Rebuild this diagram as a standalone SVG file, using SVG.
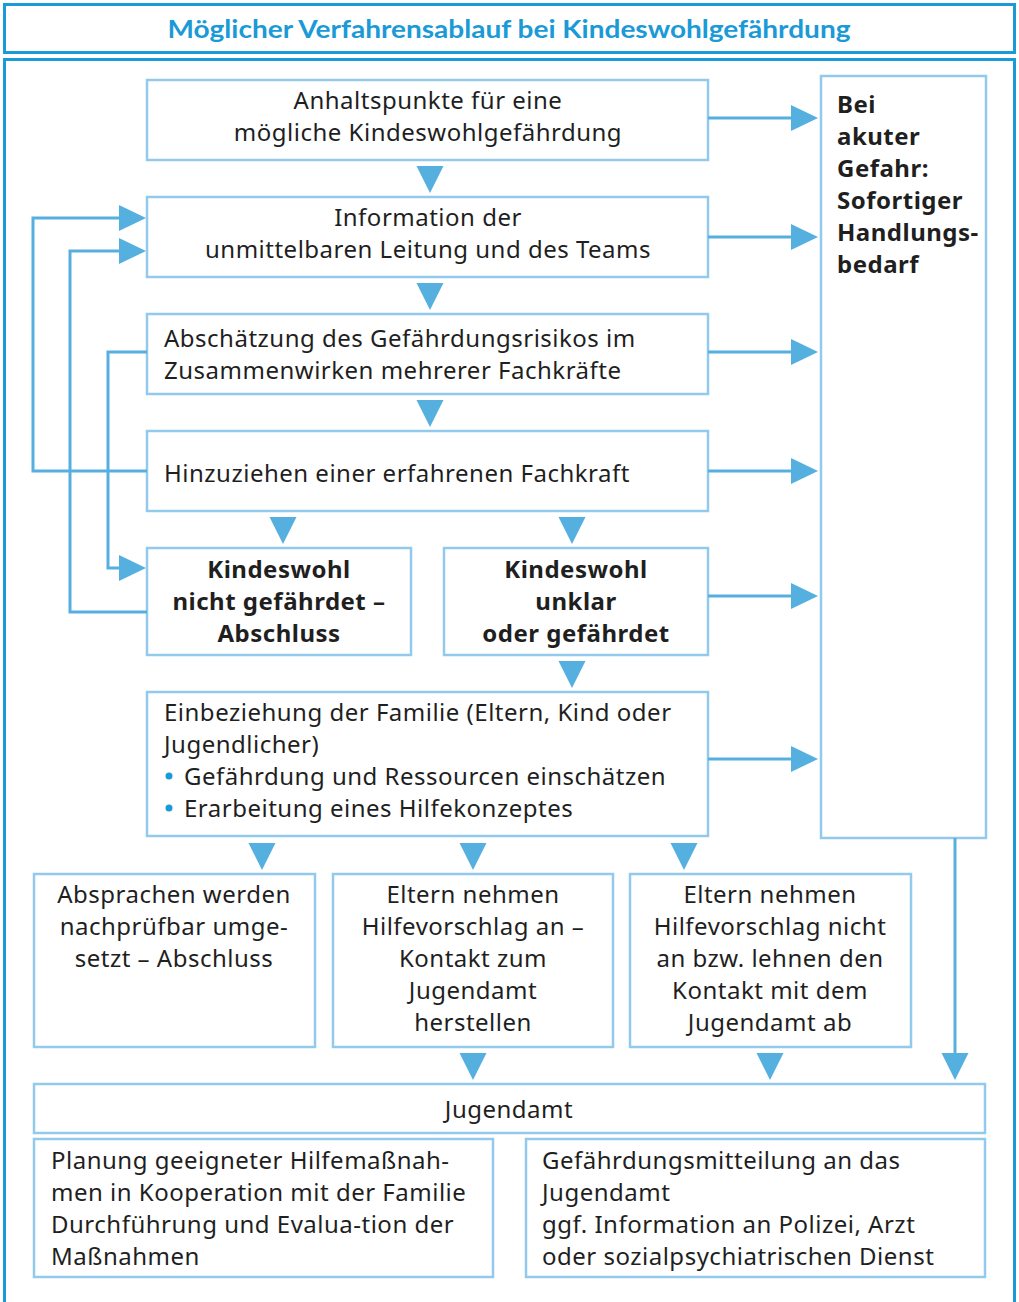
<svg xmlns="http://www.w3.org/2000/svg" xmlns:xlink="http://www.w3.org/1999/xlink" width="1019" height="1302" viewBox="0 0 1019 1302">
<style>
.frame{fill:#fff;stroke:#1a9ad6;stroke-width:3}
.box{fill:#fff;stroke:#93c9ec;stroke-width:2.5}
.t{font-family:"Noto Sans","Open Sans",sans-serif;font-size:24px;letter-spacing:0.5px;fill:#1f1f1f}
.b{font-weight:bold}
.c{text-anchor:middle}
.title{font-family:Lato,"Liberation Sans",sans-serif;font-size:25px;font-weight:bold;fill:#1a9ad6;text-anchor:middle}
.ln{fill:none;stroke:#56b0df;stroke-width:3}
.ar{fill:#56b0df}
.bul{fill:#1a9ad6}
</style>
<defs>
<path id="td" d="M-13.5,0 L13.5,0 L0,27 Z"/>
<path id="tr" d="M0,-13 L0,13 L27,0 Z"/>
</defs>
<rect width="1019" height="1302" fill="#fff"/>
<g id="title">
<rect class="frame" x="4.5" y="4.5" width="1010" height="48"/>
<text class="title" x="509" y="38" textLength="683" lengthAdjust="spacingAndGlyphs">Möglicher Verfahrensablauf bei Kindeswohlgefährdung</text>
</g>
<rect id="mainframe" class="frame" x="4.5" y="59.5" width="1010" height="1260"/>
<g id="n1">
<rect class="box" x="147" y="80" width="561" height="80"/>
<text class="t c" x="428" y="109">Anhaltspunkte für eine</text>
<text class="t c" x="428" y="141">mögliche Kindeswohlgefährdung</text>
</g>
<g id="n2">
<rect class="box" x="147" y="197" width="561" height="80"/>
<text class="t c" x="428" y="226">Information der</text>
<text class="t c" x="428" y="258">unmittelbaren Leitung und des Teams</text>
</g>
<g id="n3">
<rect class="box" x="147" y="314" width="561" height="80"/>
<text class="t" x="164" y="347">Abschätzung des Gefährdungsrisikos im</text>
<text class="t" x="164" y="379">Zusammenwirken mehrerer Fachkräfte</text>
</g>
<g id="n4">
<rect class="box" x="147" y="431" width="561" height="80"/>
<text class="t" x="164" y="482">Hinzuziehen einer erfahrenen Fachkraft</text>
</g>
<g id="n5">
<rect class="box" x="147" y="548" width="264" height="107"/>
<text class="t b c" x="279" y="578">Kindeswohl</text>
<text class="t b c" x="279" y="610">nicht gefährdet –</text>
<text class="t b c" x="279" y="642">Abschluss</text>
</g>
<g id="n6">
<rect class="box" x="444" y="548" width="264" height="107"/>
<text class="t b c" x="576" y="578">Kindeswohl</text>
<text class="t b c" x="576" y="610">unklar</text>
<text class="t b c" x="576" y="642">oder gefährdet</text>
</g>
<g id="n7">
<rect class="box" x="147" y="692" width="561" height="144"/>
<text class="t" x="164" y="721">Einbeziehung der Familie (Eltern, Kind oder</text>
<text class="t" x="164" y="753">Jugendlicher)</text>
<circle class="bul" cx="169" cy="776" r="3.5"/>
<text class="t" x="184" y="785">Gefährdung und Ressourcen einschätzen</text>
<circle class="bul" cx="169" cy="808" r="3.5"/>
<text class="t" x="184" y="817">Erarbeitung eines Hilfekonzeptes</text>
</g>
<g id="n8">
<rect class="box" x="821" y="76" width="165" height="762"/>
<text class="t b" x="837" y="113">Bei</text>
<text class="t b" x="837" y="145">akuter</text>
<text class="t b" x="837" y="177">Gefahr:</text>
<text class="t b" x="837" y="209">Sofortiger</text>
<text class="t b" x="837" y="241">Handlungs-</text>
<text class="t b" x="837" y="273">bedarf</text>
</g>
<g id="n9">
<rect class="box" x="34" y="874" width="281" height="173"/>
<text class="t c" x="174" y="903">Absprachen werden</text>
<text class="t c" x="174" y="935">nachprüfbar umge-</text>
<text class="t c" x="174" y="967">setzt – Abschluss</text>
</g>
<g id="n10">
<rect class="box" x="333" y="874" width="280" height="173"/>
<text class="t c" x="473" y="903">Eltern nehmen</text>
<text class="t c" x="473" y="935">Hilfevorschlag an –</text>
<text class="t c" x="473" y="967">Kontakt zum</text>
<text class="t c" x="473" y="999">Jugendamt</text>
<text class="t c" x="473" y="1031">herstellen</text>
</g>
<g id="n11">
<rect class="box" x="630" y="874" width="281" height="173"/>
<text class="t c" x="770" y="903">Eltern nehmen</text>
<text class="t c" x="770" y="935">Hilfevorschlag nicht</text>
<text class="t c" x="770" y="967">an bzw. lehnen den</text>
<text class="t c" x="770" y="999">Kontakt mit dem</text>
<text class="t c" x="770" y="1031">Jugendamt ab</text>
</g>
<g id="n12">
<rect class="box" x="34" y="1084" width="951" height="49"/>
<text class="t c" x="509" y="1118">Jugendamt</text>
</g>
<g id="n13">
<rect class="box" x="34" y="1139" width="459" height="138"/>
<text class="t" x="51" y="1169">Planung geeigneter Hilfemaßnah-</text>
<text class="t" x="51" y="1201">men in Kooperation mit der Familie</text>
<text class="t" x="51" y="1233">Durchführung und Evalua-tion der</text>
<text class="t" x="51" y="1265">Maßnahmen</text>
</g>
<g id="n14">
<rect class="box" x="526" y="1139" width="459" height="138"/>
<text class="t" x="542" y="1169">Gefährdungsmitteilung an das</text>
<text class="t" x="542" y="1201">Jugendamt</text>
<text class="t" x="542" y="1233">ggf. Information an Polizei, Arzt</text>
<text class="t" x="542" y="1265">oder sozialpsychiatrischen Dienst</text>
</g>
<g id="connectors">
<use class="ar" href="#td" x="430" y="166"/>
<use class="ar" href="#td" x="430" y="283"/>
<use class="ar" href="#td" x="430" y="400"/>
<use class="ar" href="#td" x="283" y="517"/>
<use class="ar" href="#td" x="572" y="517"/>
<use class="ar" href="#td" x="572" y="661"/>
<use class="ar" href="#td" x="262" y="843"/>
<use class="ar" href="#td" x="473" y="843"/>
<use class="ar" href="#td" x="684" y="843"/>
<use class="ar" href="#td" x="473" y="1053"/>
<use class="ar" href="#td" x="770" y="1053"/>
<line class="ln" x1="955" y1="838" x2="955" y2="1056"/>
<use class="ar" href="#td" x="955" y="1053"/>
<line class="ln" x1="708" y1="118" x2="793" y2="118"/>
<use class="ar" href="#tr" x="791" y="118"/>
<line class="ln" x1="708" y1="237" x2="793" y2="237"/>
<use class="ar" href="#tr" x="791" y="237"/>
<line class="ln" x1="708" y1="352" x2="793" y2="352"/>
<use class="ar" href="#tr" x="791" y="352"/>
<line class="ln" x1="708" y1="471" x2="793" y2="471"/>
<use class="ar" href="#tr" x="791" y="471"/>
<line class="ln" x1="708" y1="596" x2="793" y2="596"/>
<use class="ar" href="#tr" x="791" y="596"/>
<line class="ln" x1="708" y1="759" x2="793" y2="759"/>
<use class="ar" href="#tr" x="791" y="759"/>
<polyline class="ln" points="147,471 33,471 33,218 122,218"/>
<use class="ar" href="#tr" x="119" y="218"/>
<polyline class="ln" points="147,612 70,612 70,251 122,251"/>
<use class="ar" href="#tr" x="119" y="251"/>
<polyline class="ln" points="147,352 108,352 108,568 122,568"/>
<use class="ar" href="#tr" x="119" y="568"/>
</g>
</svg>
